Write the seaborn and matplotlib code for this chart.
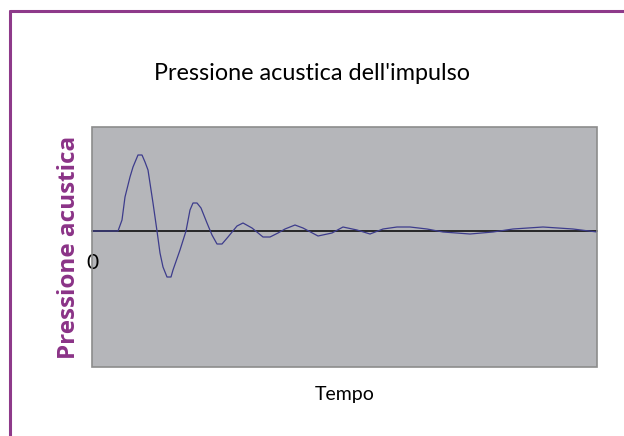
import matplotlib
matplotlib.use("Agg")
import matplotlib.pyplot as plt
import seaborn as sns
import pandas as pd
from matplotlib.lines import Line2D
from matplotlib.patches import Rectangle

# Data (time in samples, pressure in arbitrary units)
tempo = [0, 26, 30, 33, 38, 41, 46, 50, 53, 56,
         61, 65, 68, 71, 75, 79, 81, 88, 94, 98,
         101, 105, 109, 115, 120, 125, 130, 136, 145, 151,
         160, 171, 178, 186, 193, 203, 211, 226, 240, 251,
         265, 278, 291, 305, 318, 335, 351, 378, 401, 421,
         451, 481, 505]
pressione = [0.0, 0.0, 0.11, 0.34, 0.54, 0.64, 0.76, 0.76, 0.69, 0.61,
             0.28, 0.0, -0.22, -0.36, -0.46, -0.46, -0.39, -0.19, 0.0, 0.21,
             0.28, 0.28, 0.23, 0.08, -0.04, -0.13, -0.13, -0.06, 0.05, 0.08,
             0.03, -0.06, -0.06, -0.02, 0.02, 0.06, 0.03, -0.05, -0.02, 0.04,
             0.01, -0.03, 0.02, 0.04, 0.04, 0.02, -0.01, -0.03, -0.01, 0.02,
             0.04, 0.02, -0.01]

sns.set_style("white")
plt.rcParams['font.family'] = ['Lato', 'DejaVu Sans']
plt.rcParams['text.color'] = 'black'
plt.rcParams['axes.labelcolor'] = 'black'
plt.rcParams['xtick.color'] = 'black'

df = pd.DataFrame({"Tempo": tempo, "Pressione": pressione})

fig = plt.figure(figsize=(6.24, 4.36), dpi=100)
ax = fig.add_axes([92 / 624, 69 / 436, 505 / 624, 240 / 436])
ax.set_facecolor("#b5b6ba")

sns.lineplot(data=df, x="Tempo", y="Pressione", ax=ax, color="#3d3c8c",
             linewidth=0.9, zorder=3)

ax.set_xlim(0, 505)
ax.set_ylim(-1.36, 1.04)

# zero axis like the Excel category axis
for side in ["left", "right", "top"]:
    ax.spines[side].set_visible(False)
ax.spines["bottom"].set_position(("data", 0))
ax.spines["bottom"].set_color("black")
ax.spines["bottom"].set_linewidth(1.1)
ax.add_patch(Rectangle((0, 0), 1, 1, transform=ax.transAxes, fill=False,
                       edgecolor="#8c8c8c", linewidth=1.2, clip_on=False, zorder=4))

ax.set_xticks([0])
ax.set_xticklabels(["0"], fontsize=15)
ax.tick_params(axis="x", direction="out", length=6, width=1, color="black", pad=10)
ax.set_yticks([])

ax.set_xlabel("Tempo", fontsize=14)
ax.xaxis.set_label_coords(0.5, -0.08)
ax.set_ylabel("Pressione acustica", fontsize=17.5, fontweight="bold",
              color="#8b3387", family=["Open Sans", "DejaVu Sans"])
ax.yaxis.set_label_coords(-0.022, 0.5)

fig.text(311.5 / 624, 1 - 74 / 436, "Pressione acustica dell'impulso",
         ha="center", va="center", fontsize=16.8)

# purple frame (only top and left edges visible in the crop)
fig.add_artist(Line2D([10 / 624, 1], [1 - 11 / 436, 1 - 11 / 436],
                      color="#8e3a8a", linewidth=2.2))
fig.add_artist(Line2D([10 / 624, 10 / 624], [0, 1 - 11 / 436],
                      color="#8e3a8a", linewidth=2.2))

fig.savefig("out.png", dpi=100, facecolor="white")
